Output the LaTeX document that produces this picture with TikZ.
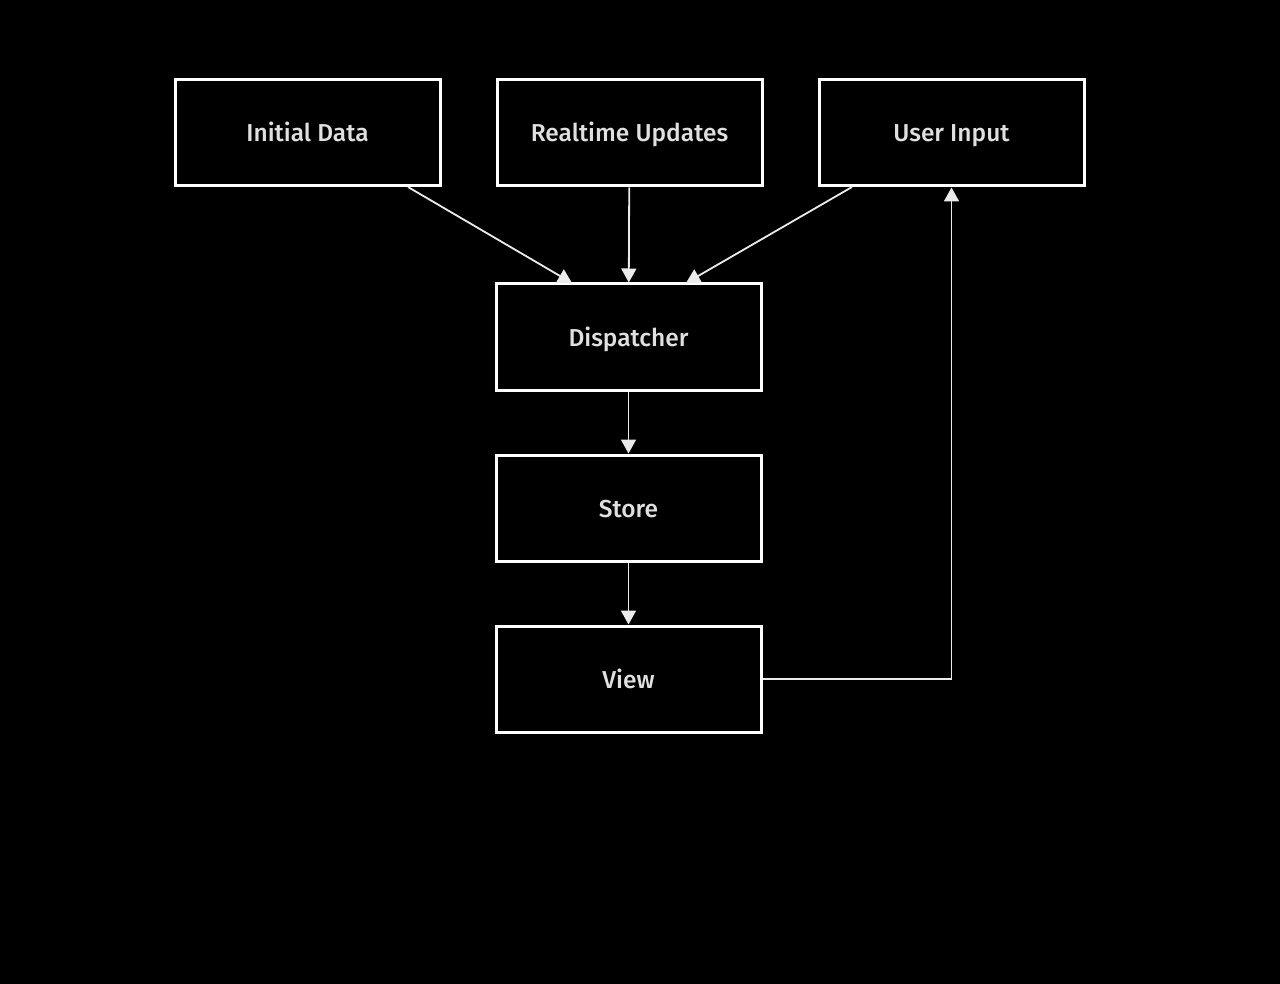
\documentclass[tikz,border=0pt]{standalone}
\usepackage{fontspec}
\setmainfont{Fira Sans Medium}
\usetikzlibrary{arrows.meta}
\begin{document}
\begin{tikzpicture}[x=1pt,y=-1pt,
  box/.style={draw=white, line width=3pt, minimum width=265pt, minimum height=106pt,
    inner sep=0pt, text=white!88!black, font=\fontsize{24.5}{28}\selectfont,
    text height=18pt, text depth=0pt},
  conn/.style={draw=white!92!black, line width=1.8pt, -{Triangle[length=14pt,width=15pt]}}
]
\fill[black] (0,0) rectangle (1280,984);
\useasboundingbox (0,0) rectangle (1280,984);
\node[box] (init) at (307.5,133) {Initial Data};
\node[box] (rt) at (629.5,133) {Realtime Updates};
\node[box] (ui) at (951.5,133) {User Input};
\node[box] (disp) at (628.5,337) {Dispatcher};
\node[box] (store) at (628.5,508) {Store};
\node[box] (view) at (628.5,679) {View};
\coordinate (a1s) at (408,187);
\coordinate (a1e) at (572,283);
\coordinate (a3s) at (852,187);
\coordinate (a3e) at (686,283);
\draw[conn] (a1s) -- (a1e);
\draw[conn] (rt) -- (disp);
\draw[conn] (a3s) -- (a3e);
\draw[conn] (disp) -- (store);
\draw[conn] (store) -- (view);
\draw[conn] (view.east) -| (ui.south -| 951.5,0);
\end{tikzpicture}
\end{document}
